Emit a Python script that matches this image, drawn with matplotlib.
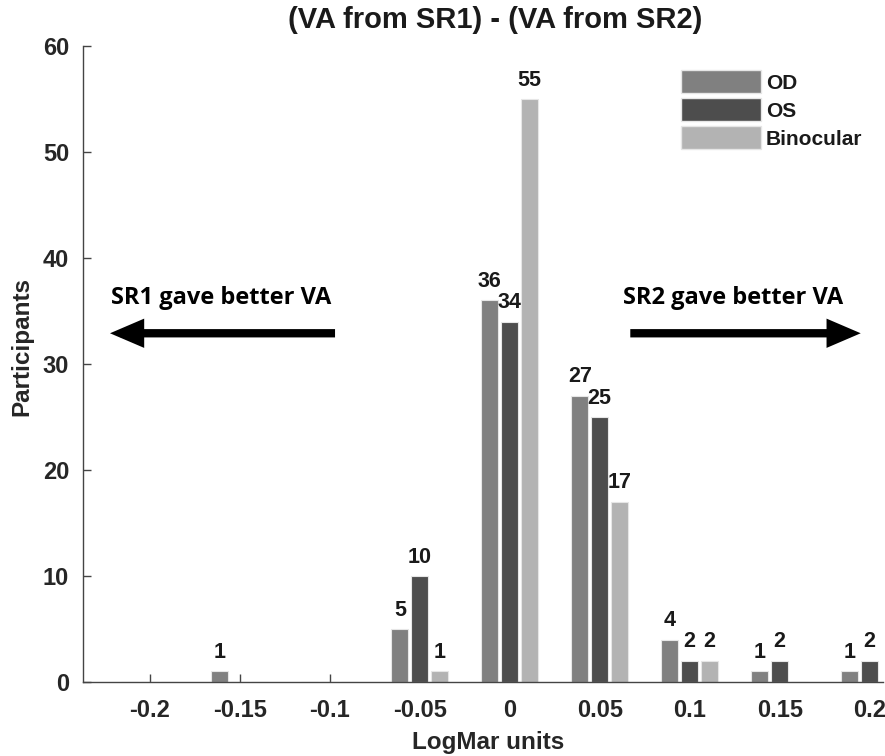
import numpy as np
import matplotlib
matplotlib.use("Agg")
import matplotlib.pyplot as plt
from matplotlib.patches import Patch

# LogMar difference bins and participant counts per series
bins = [-0.2, -0.15, -0.1, -0.05, 0, 0.05, 0.1, 0.15, 0.2]
od = [0, 1, 0, 5, 36, 27, 4, 1, 1]
os_ = [0, 0, 0, 10, 34, 25, 2, 2, 2]
binoc = [0, 0, 0, 1, 55, 17, 2, 0, 0]
series = ["OD", "OS", "Binocular"]
colors = ["#808080", "#4d4d4d", "#b3b3b3"]

plt.rcParams["font.family"] = ["Liberation Sans", "DejaVu Sans"]
plt.rcParams["font.weight"] = "bold"

fig = plt.figure(figsize=(8.85, 7.56), dpi=100)
ax = fig.add_axes([83 / 885, 1 - 682 / 756, 1 - 83 / 885 - 0.002, (682 - 46) / 756])

x = np.array(bins)
w = 0.0094
offs = [-0.011, 0.0, 0.011]
txtc = "#1a1a1a"
for vals, off, c in zip([od, os_, binoc], offs, colors):
    ax.bar(x + off, vals, width=w, color=c, edgecolor="#e6e6e6", linewidth=0.8, zorder=2)
    for xi, v in zip(x, vals):
        if v > 0:
            ax.text(xi + off, v + 0.8, str(v), ha="center", va="bottom",
                    fontsize=15.5, fontweight="bold", color=txtc)

ax.set_xlim(-0.237, 0.2075)
ax.set_ylim(0, 60)
ax.set_xticks(bins)
ax.set_xticklabels(["-0.2", "-0.15", "-0.1", "-0.05", "0", "0.05", "0.1", "0.15", "0.2"])
ax.set_yticks(range(0, 61, 10))
ax.tick_params(direction="in", length=6, width=1, color="#444444", labelsize=17,
               labelcolor="#262626")
ax.tick_params(axis="x", pad=12)
ax.tick_params(axis="y", pad=10)
for s in ["top", "right"]:
    ax.spines[s].set_visible(False)
for s in ["left", "bottom"]:
    ax.spines[s].set_color("#444444")
    ax.spines[s].set_linewidth(1)
for lab in ax.get_xticklabels() + ax.get_yticklabels():
    lab.set_fontweight("bold")

# arrows and annotations
arrow = dict(arrowstyle="-|>,head_length=1.4,head_width=0.6", lw=6, color="black",
             shrinkA=0, shrinkB=0, capstyle="butt", joinstyle="miter")
ax.annotate("", xy=(-0.222, 32.9), xytext=(-0.097, 32.9), arrowprops=arrow)
ax.annotate("", xy=(0.195, 32.9), xytext=(0.067, 32.9), arrowprops=arrow)
for xt, s in [(-0.16, "SR1 gave better VA"), (0.124, "SR2 gave better VA")]:
    ax.text(xt, 36.2, s, ha="center", va="center", fontsize=17, fontweight="bold",
            color="black", family=["Open Sans", "DejaVu Sans"])

handles = [Patch(facecolor=c, edgecolor="#e6e6e6") for c in colors]
fig.legend(handles, series, loc="upper left", bbox_to_anchor=(671 / 885, 1 - 60 / 756),
           frameon=False, borderpad=0, handlelength=3.8, handleheight=1.3,
           labelspacing=0.25, handletextpad=0.25, prop=dict(size=15, weight="bold"),
           labelcolor=txtc)

fig.text(495 / 885, 1 - 20 / 756, "(VA from SR1) - (VA from SR2)", ha="center", va="center",
         fontsize=21, fontweight="bold", color=txtc)
fig.text(22 / 885, 1 - 346 / 756, "Participants", rotation=90, ha="center", va="center",
         fontsize=17.5, fontweight="bold", color="#262626")
fig.text(488 / 885, 1 - 743 / 756, "LogMar units", ha="center", va="center",
         fontsize=17.5, fontweight="bold", color="#262626")

fig.savefig("out.png", dpi=100)
